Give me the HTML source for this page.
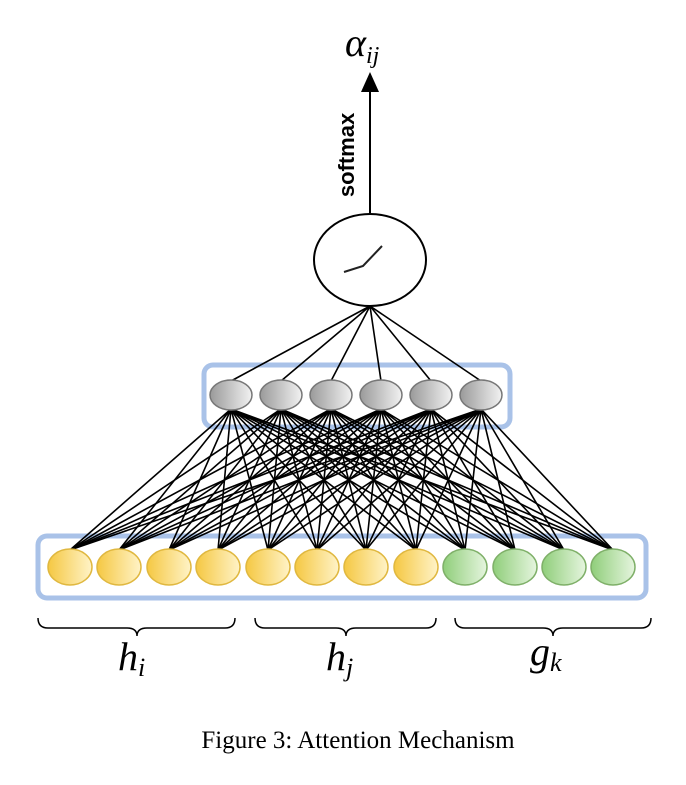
<!DOCTYPE html>
<html><head><style>
html,body{margin:0;padding:0;background:#fff;}
</style></head><body>
<svg width="686" height="780" viewBox="0 0 686 780" xmlns="http://www.w3.org/2000/svg">
<defs>
<linearGradient id="gy" x1="0" x2="1"><stop offset="0" stop-color="#f5c842"/><stop offset="1" stop-color="#fff3c8"/></linearGradient>
<linearGradient id="gg" x1="0" x2="1"><stop offset="0" stop-color="#8fce7a"/><stop offset="1" stop-color="#e6f5df"/></linearGradient>
<linearGradient id="gr" x1="0" x2="1"><stop offset="0" stop-color="#9a9a9a"/><stop offset="1" stop-color="#f2f2f2"/></linearGradient>
</defs>
<rect x="204" y="365" width="306" height="62" rx="9" fill="none" stroke="#a9c2e8" stroke-width="5"/>
<rect x="38" y="536" width="608" height="62" rx="9" fill="none" stroke="#a9c2e8" stroke-width="5"/>
<g stroke="#000" stroke-width="1.6" fill="none">
<path d="M231,381L370,306M281,381L370,306M331,381L370,306M381,381L370,306M431,381L370,306M481,381L370,306"/>
<path d="M70,550L231,409M119,550L231,409M169,550L231,409M218,550L231,409M268,550L231,409M317,550L231,409M366,550L231,409M416,550L231,409M465,550L231,409M515,550L231,409M564,550L231,409M613,550L231,409"/>
<path d="M70,550L281,409M119,550L281,409M169,550L281,409M218,550L281,409M268,550L281,409M317,550L281,409M366,550L281,409M416,550L281,409M465,550L281,409M515,550L281,409M564,550L281,409M613,550L281,409"/>
<path d="M70,550L331,409M119,550L331,409M169,550L331,409M218,550L331,409M268,550L331,409M317,550L331,409M366,550L331,409M416,550L331,409M465,550L331,409M515,550L331,409M564,550L331,409M613,550L331,409"/>
<path d="M70,550L381,409M119,550L381,409M169,550L381,409M218,550L381,409M268,550L381,409M317,550L381,409M366,550L381,409M416,550L381,409M465,550L381,409M515,550L381,409M564,550L381,409M613,550L381,409"/>
<path d="M70,550L431,409M119,550L431,409M169,550L431,409M218,550L431,409M268,550L431,409M317,550L431,409M366,550L431,409M416,550L431,409M465,550L431,409M515,550L431,409M564,550L431,409M613,550L431,409"/>
<path d="M70,550L481,409M119,550L481,409M169,550L481,409M218,550L481,409M268,550L481,409M317,550L481,409M366,550L481,409M416,550L481,409M465,550L481,409M515,550L481,409M564,550L481,409M613,550L481,409"/>
</g>
<g fill="url(#gr)" stroke="#777" stroke-width="1.5">
<ellipse cx="231" cy="395" rx="21" ry="15"/><ellipse cx="281" cy="395" rx="21" ry="15"/><ellipse cx="331" cy="395" rx="21" ry="15"/>
<ellipse cx="381" cy="395" rx="21" ry="15"/><ellipse cx="431" cy="395" rx="21" ry="15"/><ellipse cx="481" cy="395" rx="21" ry="15"/>
</g>
<g fill="url(#gy)" stroke="#e0b840" stroke-width="1.5">
<ellipse cx="70" cy="567" rx="22" ry="18"/><ellipse cx="119" cy="567" rx="22" ry="18"/><ellipse cx="169" cy="567" rx="22" ry="18"/><ellipse cx="218" cy="567" rx="22" ry="18"/>
<ellipse cx="268" cy="567" rx="22" ry="18"/><ellipse cx="317" cy="567" rx="22" ry="18"/><ellipse cx="366" cy="567" rx="22" ry="18"/><ellipse cx="416" cy="567" rx="22" ry="18"/>
</g>
<g fill="url(#gg)" stroke="#7fb069" stroke-width="1.5">
<ellipse cx="465" cy="567" rx="22" ry="18"/><ellipse cx="515" cy="567" rx="22" ry="18"/><ellipse cx="564" cy="567" rx="22" ry="18"/><ellipse cx="613" cy="567" rx="22" ry="18"/>
</g>
<line x1="370" y1="213" x2="370" y2="88" stroke="#000" stroke-width="2"/>
<polygon points="370,72 361,92 379,92" fill="#000"/>
<text transform="translate(354,155) rotate(-90)" text-anchor="middle" font-family="Liberation Sans, sans-serif" font-weight="bold" font-size="22">softmax</text>
<ellipse cx="370" cy="260" rx="56" ry="46" fill="#fff" stroke="#000" stroke-width="2"/>
<polyline points="344,272 363,266 382,246" fill="none" stroke="#222" stroke-width="2"/>
<text x="345" y="56" font-family="Liberation Serif, serif" font-style="italic" font-size="40">α<tspan font-size="24" dy="7">ij</tspan></text>
<g fill="none" stroke="#000" stroke-width="1.5">
<path d="M38,618 q0,10 10,10 h79 q10,0 10,8 q0,-8 10,-8 h78 q10,0 10,-10"/>
<path d="M255,618 q0,10 10,10 h71 q10,0 10,8 q0,-8 10,-8 h70 q10,0 10,-10"/>
<path d="M455,618 q0,10 10,10 h78 q10,0 10,8 q0,-8 10,-8 h78 q10,0 10,-10"/>
</g>
<g font-family="Liberation Serif, serif" font-style="italic" font-size="40">
<text x="118" y="670">h<tspan font-size="26" dy="6">i</tspan></text>
<text x="326" y="670">h<tspan font-size="26" dy="6">j</tspan></text>
<text x="530" y="665">g<tspan font-size="26" dy="6">k</tspan></text>
</g>
<text x="358" y="748" text-anchor="middle" font-family="Liberation Serif, serif" font-size="25">Figure 3: Attention Mechanism</text>
</svg>
</body></html>
